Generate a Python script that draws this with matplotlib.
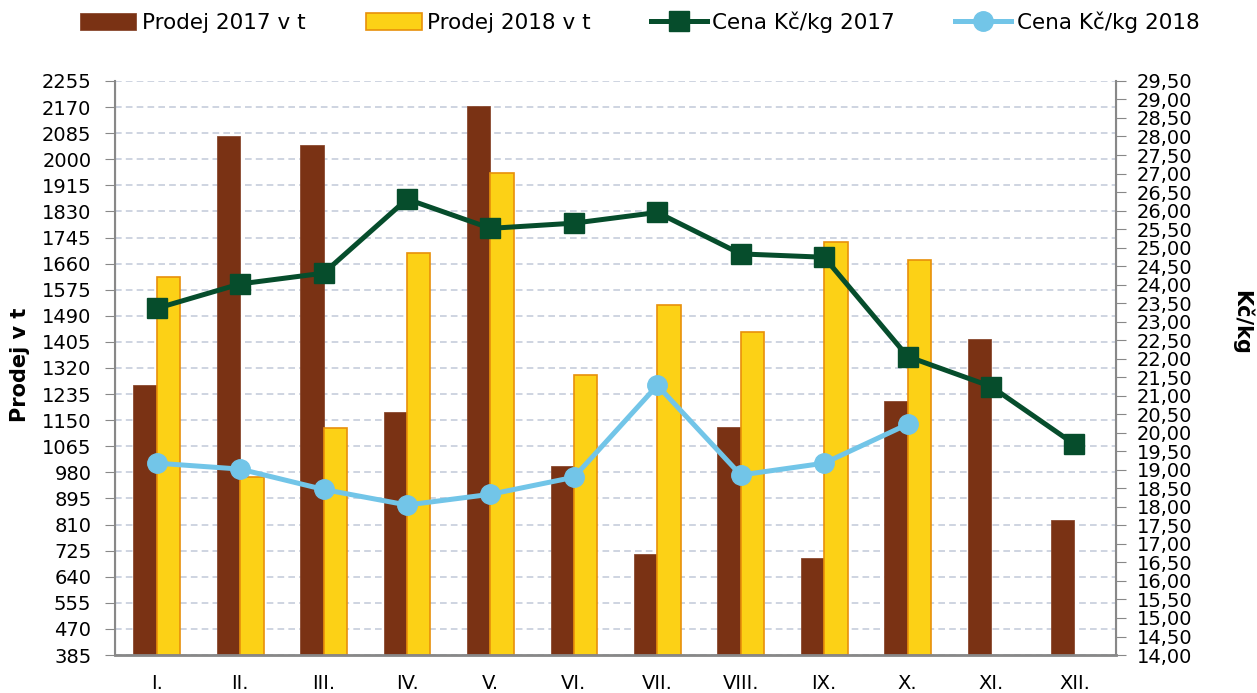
import matplotlib
matplotlib.use("Agg")
import matplotlib.pyplot as plt
import numpy as np
from matplotlib.ticker import FixedLocator, FuncFormatter

months = ["I.", "II.", "III.", "IV.", "V.", "VI.", "VII.", "VIII.", "IX.", "X.", "XI.", "XII."]
prodej_2017 = [1265, 2076, 2047, 1177, 2174, 1001, 714, 1128, 701, 1213, 1414, 825]
prodej_2018 = [1617, 966, 1124, 1696, 1956, 1297, 1525, 1438, 1731, 1672]
cena_2017 = [23.36, 24.02, 24.31, 26.31, 25.52, 25.66, 25.95, 24.83, 24.74, 22.06, 21.25, 19.69]
cena_2018 = [19.18, 19.02, 18.47, 18.05, 18.34, 18.80, 21.28, 18.86, 19.18, 20.23]
left_ticks = list(range(385, 2256, 85))
right_ticks = [14 + 0.5 * i for i in range(32)]

plt.rcParams['font.family'] = ['DejaVu Sans']

fig = plt.figure(figsize=(12.57, 6.93), dpi=100)
ax = fig.add_axes([0.0915, 0.0548, 0.7965, 0.8284])
ax2 = ax.twinx()

x = np.arange(len(months))
w = 0.28
ax.bar(x - w / 2, np.array(prodej_2017) - 385, w, bottom=385, color='#7A3214',
       edgecolor='#8a4a30', linewidth=0.6, label='Prodej 2017 v t', zorder=2)
x18 = np.arange(len(prodej_2018))
ax.bar(x18 + w / 2, np.array(prodej_2018) - 385, w, bottom=385, color='#FCD116',
       edgecolor='#E8900A', linewidth=1.2, label='Prodej 2018 v t', zorder=2)

ax.set_xlim(-0.5, 11.5)
ax.set_ylim(385, 2255)
ax.yaxis.set_major_locator(FixedLocator(left_ticks))
ax.set_xticks(x)
ax.set_xticklabels(months)
ax.tick_params(axis='x', length=0, labelsize=14, pad=14)
ax.tick_params(axis='y', length=7, color='#888888', labelsize=14, direction='out', pad=10)
ax.grid(axis='y', color='#c6cddc', linestyle=(0, (4, 2.5)), linewidth=1.2)
ax.set_axisbelow(True)

l1, = ax2.plot(x, cena_2017, color='#064D2C', linewidth=3.6, marker='s', markersize=14,
               label='Cena Kč/kg 2017', zorder=3)
l2, = ax2.plot(x18, cena_2018, color='#72C5E8', linewidth=3.6, marker='o', markersize=14,
               label='Cena Kč/kg 2018', zorder=4)
ax2.set_ylim(14, 29.5)
ax2.yaxis.set_major_locator(FixedLocator(right_ticks))
ax2.yaxis.set_major_formatter(FuncFormatter(lambda v, p: f"{v:.2f}".replace('.', ',')))
ax2.tick_params(axis='y', length=7, color='#888888', labelsize=14, direction='out', pad=8)

for a in (ax, ax2):
    a.spines['top'].set_visible(False)
    for s in ('left', 'right', 'bottom'):
        a.spines[s].set_color('#888888')
ax.spines['bottom'].set_linewidth(2)
ax.spines['left'].set_linewidth(1.5)
ax2.spines['right'].set_linewidth(1.5)

fig.text(0.016, 0.473, 'Prodej v t', rotation=90, ha='center', va='center',
         fontsize=15, fontweight='bold')
fig.text(0.988, 0.535, 'Kč/kg', rotation=270, ha='center', va='center',
         fontsize=15, fontweight='bold')

h1, lb1 = ax.get_legend_handles_labels()
fig.legend(h1 + [l1, l2], lb1 + [l1.get_label(), l2.get_label()], loc='center',
           bbox_to_anchor=(0.509, 0.968), ncol=4, frameon=False, fontsize=15.5,
           handlelength=2.6, handleheight=0.8, columnspacing=2.8, handletextpad=0.25)

fig.savefig('out.png', dpi=100)
